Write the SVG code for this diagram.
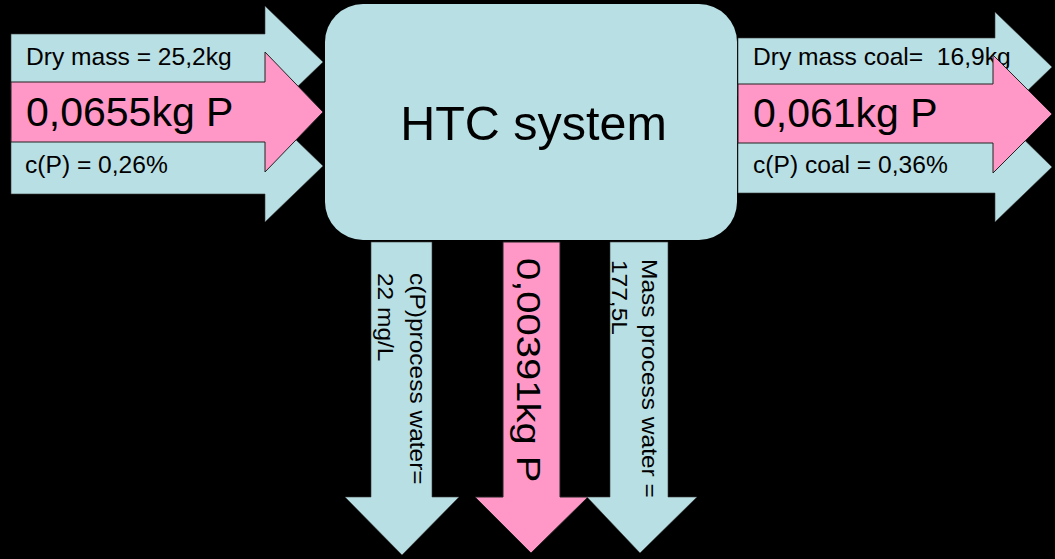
<svg xmlns="http://www.w3.org/2000/svg" width="1055" height="559" viewBox="0 0 1055 559">
<style>
.blue{fill:#B8DFE3;stroke:#3a3a3a;stroke-width:0.6}
.pink{fill:#FF98C6;stroke:#222;stroke-width:1}
.box{fill:#B8DFE3;stroke:none}
text{font-family:"Liberation Sans",Arial,sans-serif;fill:#000;white-space:pre}
.s{font-size:24.6px}
.b{font-size:41px}
.vs{font-size:24.5px}
.vb{font-size:40px}
.t{font-size:48.5px}
</style>
<rect x="0" y="0" width="1055" height="559" fill="#000"/>
<g id="node-htc">
<rect class="box" x="325" y="4" width="412" height="236" rx="38" ry="38"/>
<text class="t" x="533.5" y="140" text-anchor="middle">HTC system</text>
</g>
<g id="flows">
<g id="in-drymass">
<polygon class="blue" points="11,34 265,34 265,6 323,62 265,118 265,90 11,90"/>
<text class="s" x="26" y="65">Dry mass = 25,2kg</text>
</g>
<g id="in-cp">
<polygon class="blue" points="11,138 265,138 265,110 323,166 265,222 265,194 11,194"/>
<text class="s" x="25" y="173">c(P) = 0,26%</text>
</g>
<g id="in-p">
<polygon class="pink" points="11,82 265,82 265,52 323,112 265,172 265,142 11,142"/>
<text class="b" x="26" y="126">0,0655kg P</text>
</g>
<g id="out-drymass">
<polygon class="blue" points="738,38 995,38 995,12 1052,67 995,122 995,96 738,96"/>
<text class="s" x="753" y="65">Dry mass coal=  16,9kg</text>
</g>
<g id="out-cp">
<polygon class="blue" points="738,140 995,140 995,111 1052,167 995,222 995,193 738,193"/>
<text class="s" x="753" y="173">c(P) coal = 0,36%</text>
</g>
<g id="out-p">
<polygon class="pink" points="738,84 993,84 993,55 1052,114 993,173 993,143 738,143"/>
<text class="b" x="753" y="127">0,061kg P</text>
</g>
<g id="water-cp">
<polygon class="blue" points="371,242 432,242 432,497 459,497 402,555 345,497 371,497"/>
<text class="vs" transform="translate(410,273) rotate(90) scale(1,0.87)">c(P)process water=</text>
<text class="vs" transform="translate(378,273) rotate(90) scale(1,0.87)">22 mg/L</text>
</g>
<g id="water-p">
<polygon class="pink" points="503,242 560,242 560,497 588,497 531,553 475,497 503,497"/>
<text class="vb" transform="translate(517,258) rotate(90) scale(1,0.84)">0,00391kg P</text>
</g>
<g id="water-mass">
<polygon class="blue" points="610,242 668,242 668,497 697,497 640,553 587,497 610,497"/>
<text class="vs" transform="translate(642,259) rotate(90) scale(1,0.87)">Mass process water =</text>
<text class="vs" transform="translate(612,260) rotate(90) scale(1,0.87)">177,5L</text>
</g>
</g>
</svg>
